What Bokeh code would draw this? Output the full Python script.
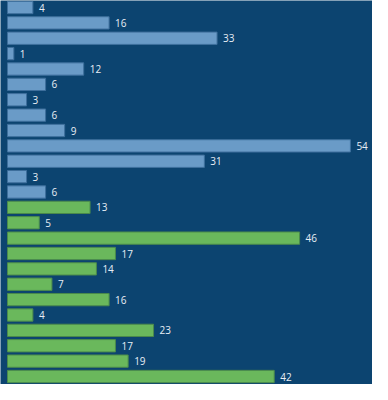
from bokeh.plotting import figure
from bokeh.models import ColumnDataSource, Range1d
from bokeh.core.properties import value
from bokeh.embed import file_html
from bokeh.resources import INLINE

blue_values = [4, 16, 33, 1, 12, 6, 3, 6, 9, 54, 31, 3, 6]
green_values = [13, 5, 46, 17, 14, 7, 16, 4, 23, 17, 19, 42]

BG = "#0c4470"
BLUE = "#6a9bc7"
BLUE_EDGE = "#3e6f9c"
GREEN = "#6ab85c"
GREEN_EDGE = "#4b8a4c"

values = blue_values + green_values
n = len(values)
ys = [n - 1 - i for i in range(n)]
fills = [BLUE] * len(blue_values) + [GREEN] * len(green_values)
edges = [BLUE_EDGE] * len(blue_values) + [GREEN_EDGE] * len(green_values)
labels = [str(v) for v in values]

src = ColumnDataSource(dict(y=ys, v=values, fill=fills, edge=edges, label=labels))

W, H = 372, 384
xscale = 6.35
yscale = 15.375
x0 = -7 / xscale
y1 = (n - 1) + 7 / yscale
p = figure(width=W, height=H, output_backend="svg", toolbar_location=None,
           x_range=Range1d(x0, x0 + W / xscale),
           y_range=Range1d(y1 - H / yscale, y1),
           min_border=0, min_border_left=0, min_border_right=0,
           min_border_top=0, min_border_bottom=0)
p.background_fill_color = BG
p.border_fill_color = BG
p.outline_line_color = None
p.xaxis.visible = False
p.yaxis.visible = False
p.xgrid.visible = False
p.ygrid.visible = False

p.hbar(y="y", left=0, right="v", height=0.8, fill_color="fill",
       line_color="edge", line_width=1, source=src)
p.text(x="v", y="y", text="label", x_offset=6, text_baseline="middle",
       text_align="left", text_color="#e8eef5", text_font=value("Open Sans"),
       text_font_size="10px", source=src)

open("out.html", "w").write(file_html(p, INLINE))
